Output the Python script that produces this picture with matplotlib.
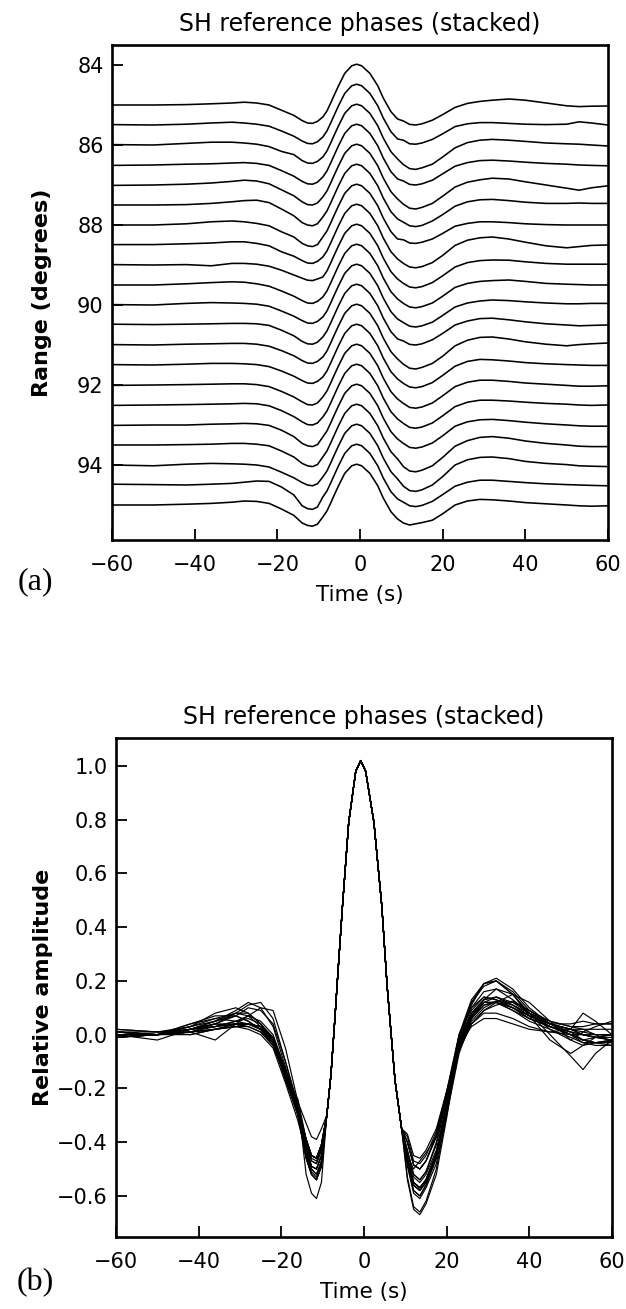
#!/usr/bin/env python3
"""SH reference phases: (a) record section stacked by range, (b) same traces overlaid.

    python plot.py   -> out.png
"""

import matplotlib
matplotlib.use("Agg")
import matplotlib.pyplot as plt
from matplotlib.ticker import FuncFormatter

# --- data ---------------------------------------------------------------------
RANGES = [85.0, 85.5, 86.0, 86.5, 87.0, 87.5, 88.0, 88.5, 89.0, 89.5, 90.0,
          90.5, 91.0, 91.5, 92.0, 92.5, 93.0, 93.5, 94.0, 94.5, 95.0]

# precursor side (per trace)
LEFT_T = [-60, -50, -42, -36, -31, -28, -25, -22, -19, -16, -14, -12.7, -11.5, -10.3]
LEFT_A = [
    [0.00, 0.00, 0.01, 0.03, 0.05, 0.07, 0.05, 0.00, -0.13, -0.26, -0.39, -0.45, -0.46, -0.41],
    [0.01, 0.00, 0.02, 0.05, 0.07, 0.05, 0.02, -0.03, -0.15, -0.28, -0.40, -0.46, -0.47, -0.42],
    [0.01, 0.00, 0.04, 0.07, 0.07, 0.05, 0.02, -0.04, -0.16, -0.24, -0.39, -0.45, -0.46, -0.41],
    [-0.01, 0.00, 0.02, 0.03, 0.05, 0.06, 0.04, -0.01, -0.14, -0.28, -0.41, -0.47, -0.48, -0.43],
    [-0.01, 0.00, 0.02, 0.05, 0.09, 0.12, 0.10, 0.03, -0.12, -0.27, -0.42, -0.49, -0.50, -0.45],
    [0.00, 0.00, 0.01, 0.04, 0.08, 0.11, 0.12, 0.06, -0.10, -0.27, -0.44, -0.50, -0.52, -0.47],
    [0.00, 0.00, 0.03, 0.08, 0.10, 0.08, 0.04, -0.02, -0.17, -0.30, -0.46, -0.52, -0.54, -0.49],
    [0.01, 0.01, 0.03, 0.05, 0.08, 0.08, 0.04, -0.02, -0.17, -0.28, -0.39, -0.45, -0.46, -0.41],
    [0.01, 0.00, 0.01, -0.02, 0.04, 0.04, 0.02, -0.03, -0.13, -0.25, -0.33, -0.38, -0.39, -0.35],
    [0.00, 0.00, 0.03, 0.06, 0.08, 0.07, 0.03, -0.03, -0.15, -0.28, -0.39, -0.45, -0.46, -0.41],
    [0.01, 0.00, 0.04, 0.06, 0.05, 0.04, 0.02, -0.03, -0.15, -0.28, -0.39, -0.45, -0.46, -0.41],
    [0.02, 0.01, 0.02, 0.03, 0.04, 0.04, 0.03, -0.01, -0.13, -0.27, -0.41, -0.47, -0.48, -0.43],
    [0.01, 0.00, 0.02, 0.03, 0.04, 0.04, 0.02, -0.03, -0.14, -0.27, -0.39, -0.45, -0.46, -0.41],
    [0.01, 0.00, 0.02, 0.04, 0.04, 0.03, 0.01, -0.04, -0.15, -0.28, -0.39, -0.45, -0.46, -0.41],
    [-0.01, 0.00, 0.01, 0.02, 0.03, 0.03, 0.01, -0.04, -0.16, -0.30, -0.42, -0.49, -0.50, -0.45],
    [-0.01, 0.00, 0.01, 0.02, 0.03, 0.04, 0.03, -0.02, -0.14, -0.29, -0.42, -0.49, -0.50, -0.45],
    [-0.01, 0.00, 0.00, 0.02, 0.03, 0.04, 0.03, -0.01, -0.13, -0.29, -0.46, -0.52, -0.54, -0.49],
    [0.00, 0.00, 0.01, 0.02, 0.04, 0.04, 0.02, -0.02, -0.15, -0.30, -0.46, -0.52, -0.54, -0.49],
    [0.00, -0.02, 0.02, 0.04, 0.03, 0.02, 0.00, -0.05, -0.18, -0.32, -0.44, -0.50, -0.52, -0.47],
    [0.02, 0.01, 0.00, 0.02, 0.04, 0.07, 0.10, 0.09, -0.05, -0.25, -0.52, -0.59, -0.61, -0.55],
    [0.00, 0.00, 0.02, 0.04, 0.07, 0.10, 0.09, 0.04, -0.10, -0.26, -0.45, -0.51, -0.53, -0.48],
]

# main pulse, common to all traces
PULSE_T = [-9, -8, -7, -6.4, -5.2, -3.7, -2.0, -0.8, 0.4, 2.4, 4.3, 5.6, 7.5, 9.1]
PULSE_A = [-0.30, -0.15, 0.07, 0.21, 0.48, 0.79, 0.98, 1.02, 0.98, 0.79, 0.48, 0.18, -0.17, -0.35]

# coda side (per trace)
RIGHT_T = [10.5, 12, 13.5, 15, 17.5, 20, 23, 26, 29, 32, 36, 40, 45, 50, 53, 56, 60]
RIGHT_A = [
    [-0.40, -0.485, -0.50, -0.47, -0.38, -0.24, -0.06, 0.04, 0.09, 0.12, 0.15, 0.12, 0.05, -0.02, -0.04, -0.03, -0.025],
    [-0.38, -0.47, -0.48, -0.45, -0.36, -0.22, -0.04, 0.03, 0.06, 0.06, 0.04, 0.02, 0.01, 0.02, 0.08, 0.05, 0.00],
    [-0.49, -0.59, -0.61, -0.57, -0.48, -0.30, -0.07, 0.06, 0.12, 0.14, 0.12, 0.09, 0.05, 0.03, 0.02, 0.00, -0.025],
    [-0.40, -0.485, -0.50, -0.47, -0.38, -0.22, -0.03, 0.06, 0.11, 0.12, 0.10, 0.07, 0.04, 0.02, 0.00, -0.01, -0.02],
    [-0.48, -0.58, -0.60, -0.56, -0.46, -0.28, -0.05, 0.07, 0.13, 0.17, 0.15, 0.08, 0.00, -0.08, -0.13, -0.07, -0.02],
    [-0.43, -0.52, -0.54, -0.51, -0.40, -0.24, -0.03, 0.08, 0.13, 0.14, 0.11, 0.07, 0.04, 0.04, 0.05, 0.04, 0.04],
    [-0.37, -0.45, -0.46, -0.43, -0.35, -0.21, -0.03, 0.04, 0.08, 0.08, 0.06, 0.03, 0.01, 0.00, 0.00, 0.00, 0.00],
    [-0.46, -0.55, -0.57, -0.54, -0.44, -0.26, -0.01, 0.12, 0.18, 0.20, 0.15, 0.07, -0.02, -0.07, -0.04, -0.01, 0.00],
    [-0.46, -0.55, -0.57, -0.54, -0.44, -0.27, -0.05, 0.06, 0.11, 0.125, 0.12, 0.08, 0.04, 0.02, 0.02, 0.02, 0.02],
    [-0.46, -0.55, -0.57, -0.54, -0.45, -0.28, -0.06, 0.04, 0.09, 0.11, 0.125, 0.09, 0.04, 0.02, 0.01, 0.00, 0.00],
    [-0.44, -0.53, -0.55, -0.52, -0.43, -0.26, -0.05, 0.05, 0.10, 0.125, 0.11, 0.08, 0.05, 0.03, 0.03, 0.04, 0.04],
    [-0.40, -0.485, -0.50, -0.47, -0.37, -0.21, 0.00, 0.10, 0.16, 0.17, 0.13, 0.08, 0.03, 0.00, -0.02, -0.01, 0.00],
    [-0.48, -0.58, -0.60, -0.56, -0.46, -0.28, -0.02, 0.12, 0.19, 0.20, 0.15, 0.08, 0.02, -0.02, 0.01, 0.03, 0.05],
    [-0.46, -0.55, -0.57, -0.54, -0.44, -0.26, -0.03, 0.09, 0.14, 0.13, 0.10, 0.06, 0.03, 0.01, 0.00, -0.01, -0.01],
    [-0.46, -0.56, -0.58, -0.55, -0.45, -0.27, -0.04, 0.07, 0.12, 0.12, 0.09, 0.05, 0.02, -0.01, -0.03, -0.03, -0.02],
    [-0.46, -0.56, -0.58, -0.55, -0.45, -0.27, -0.04, 0.07, 0.12, 0.12, 0.10, 0.07, 0.04, 0.02, 0.00, -0.01, 0.00],
    [-0.46, -0.56, -0.58, -0.55, -0.45, -0.27, -0.03, 0.08, 0.13, 0.14, 0.11, 0.07, 0.03, 0.00, -0.02, -0.03, -0.03],
    [-0.54, -0.65, -0.67, -0.63, -0.52, -0.31, -0.03, 0.11, 0.19, 0.21, 0.17, 0.10, 0.04, 0.00, -0.03, -0.04, -0.04],
    [-0.53, -0.64, -0.66, -0.62, -0.50, -0.29, 0.00, 0.13, 0.19, 0.20, 0.16, 0.09, 0.04, 0.01, -0.02, -0.03, -0.04],
    [-0.43, -0.52, -0.54, -0.51, -0.41, -0.24, -0.03, 0.07, 0.12, 0.12, 0.09, 0.06, 0.03, 0.01, 0.00, -0.01, -0.02],
    [-0.45, -0.50, -0.47, -0.44, -0.38, -0.22, 0.00, 0.10, 0.14, 0.13, 0.10, 0.06, 0.03, 0.00, -0.02, -0.03, -0.02],
]

TIME_TICKS = [-60, -40, -20, 0, 20, 40, 60]
RANGE_TICKS = [84, 86, 88, 90, 92, 94]
AMP_TICKS = [1.0, 0.8, 0.6, 0.4, 0.2, 0.0, -0.2, -0.4, -0.6]

TITLE = "SH reference phases (stacked)"
W, H = 626, 1309


def trace(i):
    t = LEFT_T + PULSE_T + RIGHT_T
    a = LEFT_A[i] + PULSE_A + RIGHT_A[i]
    return t, a


def amp_label(v, _pos):
    s = f"{v:.1f}"
    if s == "-0.0":
        s = "0.0"
    return s.replace("-", "\u2212")


def style_axes(ax):
    for s in ax.spines.values():
        s.set_linewidth(1.9)
    ax.tick_params(direction="in", length=8, width=1.3, labelsize=15,
                   top=False, right=False)
    ax.tick_params(axis="x", pad=11)
    ax.tick_params(axis="y", pad=6)
    ax.set_xlim(-60, 60)
    ax.set_xticks(TIME_TICKS)
    ax.set_title(TITLE, fontsize=17, pad=10)
    ax.set_xlabel("Time (s)", fontsize=15.5, labelpad=7)


def px_box(left, right, top, bottom):
    return [left / W, 1 - bottom / H, (right - left) / W, (bottom - top) / H]


def main():
    fig = plt.figure(figsize=(W / 100, H / 100), dpi=100, facecolor="white")

    # (a) stacked record section
    ax = fig.add_axes(px_box(112, 608, 45, 540))
    for i, r in enumerate(RANGES):
        t, a = trace(i)
        ax.plot(t, [r - v for v in a], color="black", lw=1.15)
    ax.set_ylim(95.875, 83.5)
    ax.set_yticks(RANGE_TICKS)
    style_axes(ax)
    ax.set_ylabel("Range (degrees)", fontsize=16, fontweight="bold", labelpad=18)

    # (b) overlaid traces
    bx = fig.add_axes(px_box(116, 612, 738, 1237))
    for i in range(len(RANGES)):
        t, a = trace(i)
        bx.plot(t, a, color="black", lw=0.85)
    bx.set_ylim(-0.753, 1.104)
    bx.set_yticks(AMP_TICKS)
    bx.yaxis.set_major_formatter(FuncFormatter(amp_label))
    style_axes(bx)
    bx.set_ylabel("Relative amplitude", fontsize=16, fontweight="bold", labelpad=3)

    fig.text(35 / W, 1 - 582 / H, "(a)", family="Liberation Serif", fontsize=23,
             ha="center", va="center")
    fig.text(35 / W, 1 - 1283 / H, "(b)", family="Liberation Serif", fontsize=23,
             ha="center", va="center")

    fig.savefig("out.png", dpi=100, facecolor="white")
    plt.close(fig)
    return 0


if __name__ == "__main__":
    raise SystemExit(main())
